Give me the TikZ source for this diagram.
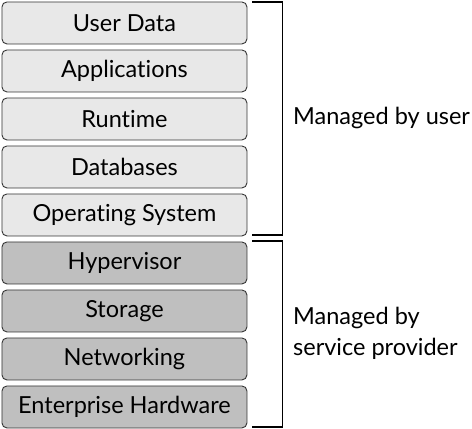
\documentclass[tikz,border=0pt]{standalone}
\usepackage{fontspec}
\setmainfont[Ligatures=NoCommon]{Lato}
\begin{document}
\begin{tikzpicture}[x=1pt,y=-1pt,
  layer/.style={draw=black!80, line width=0.9pt, rounded corners=5pt, minimum width=245pt, minimum height=42pt, inner sep=0pt, anchor=north west, font=\fontsize{23.5}{25}\selectfont},
  userlayer/.style={layer, fill=black!9},
  provlayer/.style={layer, fill=black!25},
  brack/.style={line width=1.6pt},
  lbl/.style={anchor=west, font=\fontsize{23.5}{31}\selectfont, align=left, inner sep=0pt}]
\useasboundingbox (0,0) rectangle (472,429);
\node[userlayer] (ud) at (1.5,1.5) {User Data};
\node[userlayer] (ap) at (1.5,49.5) {Applications};
\node[userlayer] (rt) at (1.5,97.5) {Runtime};
\node[userlayer] (db) at (1.5,145.5) {Databases};
\node[userlayer] (os) at (1.5,193.5) {Operating System};
\node[provlayer] (hv) at (1.5,241.5) {Hypervisor};
\node[provlayer] (st) at (1.5,289.5) {Storage};
\node[provlayer] (nw) at (1.5,337.5) {Networking};
\node[provlayer] (eh) at (1.5,385.5) {Enterprise Hardware};
\coordinate (u1) at (252,1.8);
\coordinate (u2) at (282.5,1.8);
\coordinate (u3) at (282.5,235);
\coordinate (u4) at (252,235);
\coordinate (p1) at (252,240.8);
\coordinate (p2) at (282.5,240.8);
\coordinate (p3) at (282.5,427);
\coordinate (p4) at (252,427);
\draw[brack] (u1) -- (u2) -- (u3) -- (u4);
\draw[brack] (p1) -- (p2) -- (p3) -- (p4);
\node[lbl] (mu) at (293,118) {Managed by user};
\node[lbl] (mp) at (293,333) {Managed by\\service provider};
\end{tikzpicture}
\end{document}
